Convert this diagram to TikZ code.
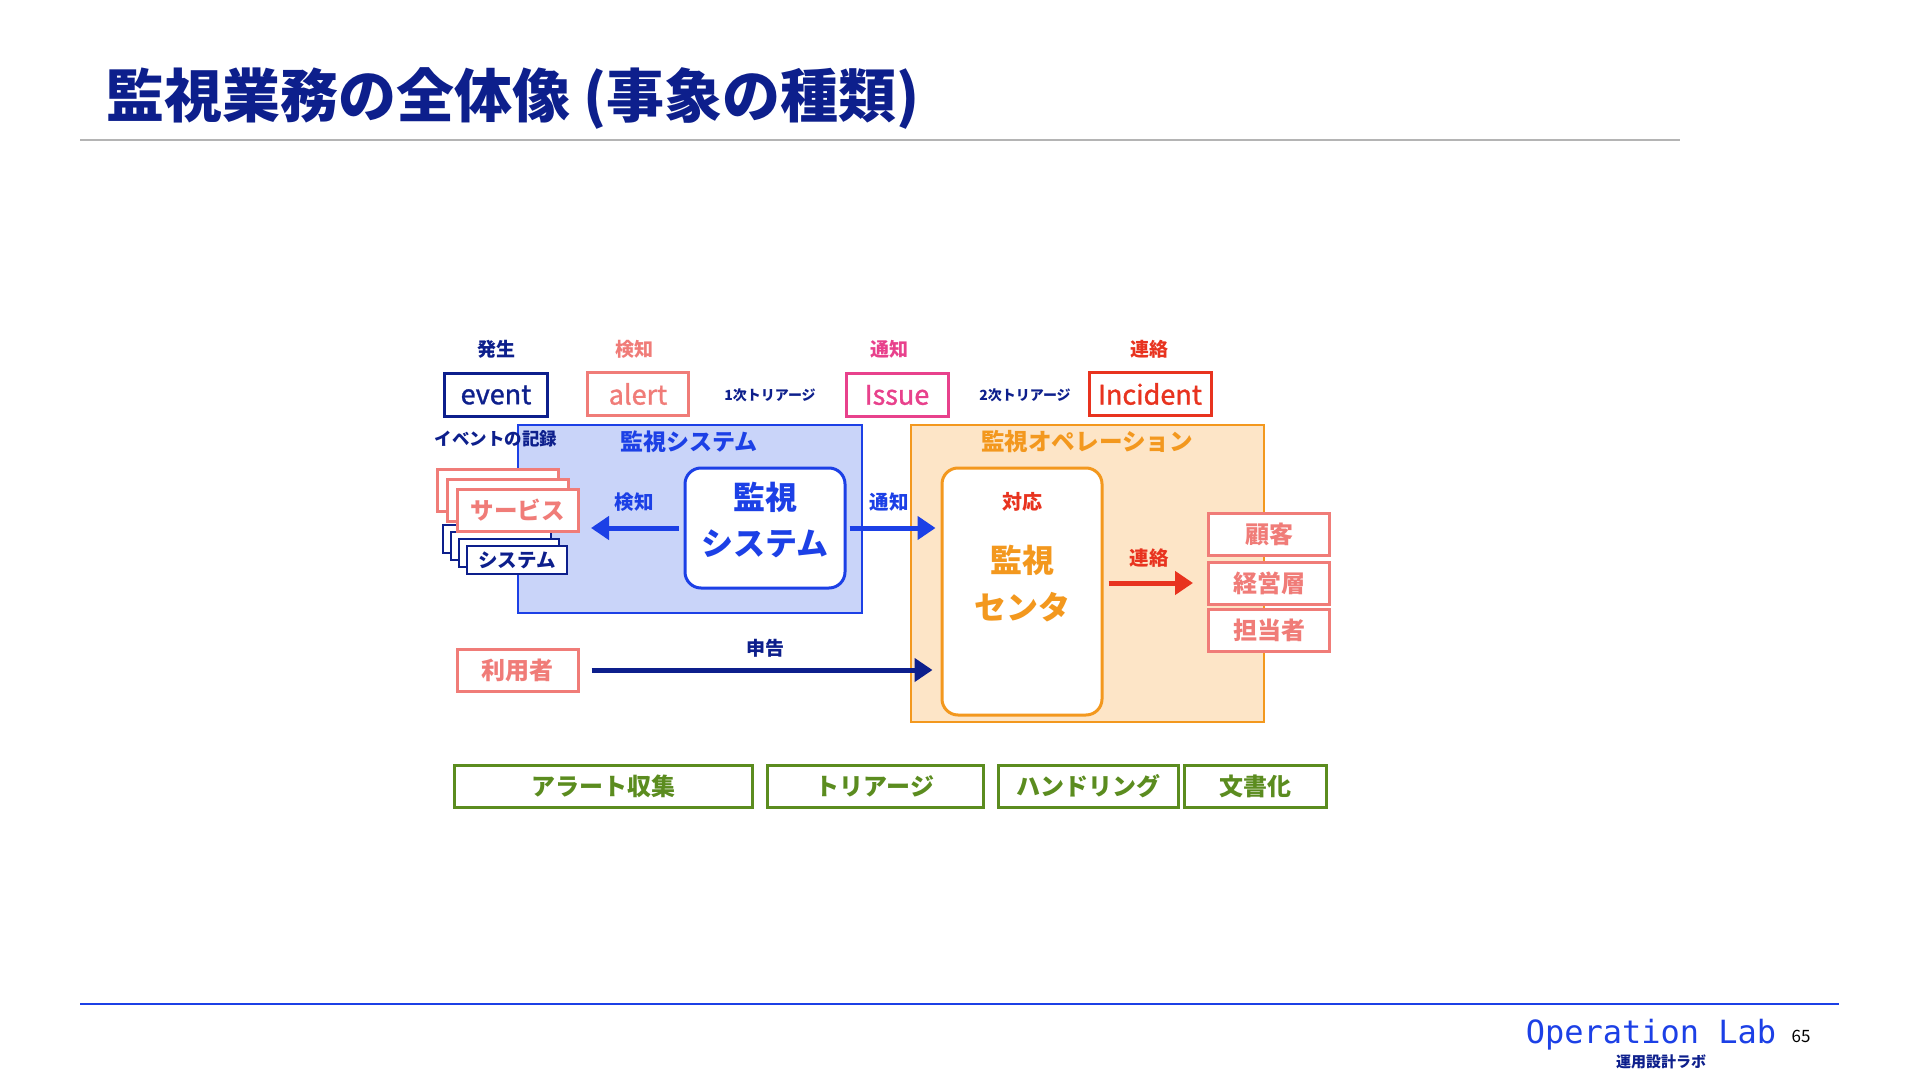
\documentclass[tikz,border=0pt]{standalone}
\usepackage{fontspec}
\setmainfont{Noto Sans CJK JP}
\newfontfamily\tagfont{Noto Sans CJK JP}[FakeBold=1.2]
\newfontfamily\labfont{DejaVu Sans Mono}
\usetikzlibrary{arrows.meta}

\definecolor{navy}{HTML}{0D1F8C}
\definecolor{salmon}{HTML}{F07C78}
\definecolor{issuepink}{HTML}{E8418C}
\definecolor{alarmred}{HTML}{E8331F}
\definecolor{monblue}{HTML}{1C40E6}
\definecolor{monfill}{HTML}{C9D4F9}
\definecolor{opsorange}{HTML}{F3981E}
\definecolor{opsfill}{HTML}{FDE5C7}
\definecolor{stepgreen}{HTML}{5B8C1F}
\definecolor{rulegray}{HTML}{B4B4B4}

\newcommand\fsz[1]{\fontsize{#1}{#1}\selectfont}

\tikzset{
  lbl/.style={inner sep=0, font=\bfseries\fsz{9.5}},
  tag/.style={draw, line width=1.5pt, fill=white, inner sep=0, minimum height=21.5pt, font=\tagfont\fsz{13.5}},
  card/.style={draw=salmon, line width=1.5pt, fill=white, inner sep=0, minimum width=60.5pt, minimum height=21pt, text=salmon, font=\bfseries\fsz{12}},
  host/.style={draw=navy, line width=1pt, fill=white, inner sep=0, minimum width=50pt, minimum height=14pt, text=navy, font=\bfseries\fsz{9.75}},
  region/.style={line width=0.75pt, inner sep=0},
  core/.style={line width=1.5pt, fill=white, rounded corners=8pt, inner sep=0, minimum width=80pt},
  stepbox/.style={draw=stepgreen, line width=1.5pt, inner sep=0, minimum height=21pt, text=stepgreen, font=\bfseries\fsz{12}},
  flow/.style={line width=2.5pt, -{Triangle[length=9pt,width=11.5pt]}}
}

\begin{document}
\begin{tikzpicture}[x=0.5pt,y=-0.5pt]
\useasboundingbox (0,0) rectangle (1920,1080);

% title
\node[anchor=west, inner sep=0, text=navy, font=\bfseries\fsz{29}] (title) at (106,99) {監視業務の全体像 (事象の種類)};
\draw[rulegray, line width=1pt] (80,140) -- (1680,140);

% kinds of events
\node[tag, draw=navy, text=navy, minimum width=51.5pt] (evt) at (496,395) {event};
\node[tag, draw=salmon, text=salmon, minimum width=50.5pt] (alrt) at (638,394) {alert};
\node[tag, draw=issuepink, text=issuepink, minimum width=51pt] (iss) at (897,395) {Issue};
\node[tag, draw=alarmred, text=alarmred, minimum width=61pt] (inc) at (1150,394) {Incident};
\node[lbl, text=navy] (occur) at (496,349) {発生};
\node[lbl, text=salmon] (detect) at (634,349) {検知};
\node[lbl, text=issuepink] (notify) at (889,349) {通知};
\node[lbl, text=alarmred] (contact) at (1149,349) {連絡};
\node[lbl, text=navy, font=\bfseries\fsz{7}] (tri1) at (770,395) {1次トリアージ};
\node[lbl, text=navy, font=\bfseries\fsz{7}] (tri2) at (1025,395) {2次トリアージ};

% regions
\node[region, draw=monblue, fill=monfill, minimum width=172pt, minimum height=94pt] (monsys) at (690,519) {};
\node[region, draw=opsorange, fill=opsfill, minimum width=176.5pt, minimum height=148.5pt] (ops) at (1087.5,573.5) {};
\node[lbl, text=monblue, font=\bfseries\fsz{11.5}] (monsyslbl) at (689,442) {監視システム};
\node[lbl, text=opsorange, font=\bfseries\fsz{11.8}] (opslbl) at (1087,442) {監視オペレーション};
\node[lbl, text=navy, font=\bfseries\fsz{8.75}] (evlog) at (496,439) {イベントの記録};

% monitored hosts
\node[host] (sys1) at (493,539) {};
\node[host] (sys2) at (501,546) {};
\node[host] (sys3) at (509,553) {};
\node[host] (sys4) at (517,560) {システム};
\node[card] (svc1) at (497.5,490.5) {};
\node[card] (svc2) at (507.5,500.5) {};
\node[card, font=\bfseries\fsz{11.75}] (svc3) at (517.5,510.5) {サービス};

% monitoring system
\node[core, draw=monblue, minimum height=60pt] (mon) at (765,528) {};
\node[lbl, text=monblue, align=center, font=\bfseries\fontsize{16}{23}\selectfont] (montxt) at (765,520) {監視\\システム};
\coordinate (detL) at (591,528);
\draw[flow, monblue, shorten <=2.5pt] (mon.west) -- (detL);
\node[lbl, text=monblue, font=\bfseries\fsz{9.75}] (detmid) at (634,502) {検知};

% monitoring center
\node[core, draw=opsorange, minimum height=123.5pt] (ctr) at (1022,591.5) {};
\node[lbl, text=alarmred, font=\bfseries\fsz{10}] (resp) at (1022,502) {対応};
\node[lbl, text=opsorange, align=center, font=\bfseries\fontsize{16}{23.5}\selectfont] (ctrtxt) at (1022,584) {監視\\センタ};
\draw[flow, monblue, shorten <=1.5pt, shorten >=2.5pt] (mon.east) -- (mon.east -| ctr.west);
\node[lbl, text=monblue, font=\bfseries\fsz{9.75}] (notmid) at (889,502) {通知};

% parties to contact
\node[card] (cust) at (1269,534.5) {顧客};
\node[card] (mgmt) at (1269,583) {経営層};
\node[card] (staff) at (1269,630.5) {担当者};
\draw[flow, alarmred, shorten <=2.5pt, shorten >=7pt] (ctr.east |- mgmt) -- (mgmt.west);
\node[lbl, text=alarmred, font=\bfseries\fsz{9.75}] (conmid) at (1149,558) {連絡};

% user report
\node[card] (user) at (517.5,670) {利用者};
\draw[flow, navy, shorten <=6pt, shorten >=4pt] (user.east) -- (user -| ctr.west);
\node[lbl, text=navy] (report) at (765,648) {申告};

% phases
\node[stepbox, minimum width=149pt] (collect) at (603,786) {アラート収集};
\node[stepbox, minimum width=108pt] (triage) at (875,786) {トリアージ};
\node[stepbox, minimum width=90pt] (handle) at (1088,786) {ハンドリング};
\node[stepbox, minimum width=71pt] (docs) at (1255,786) {文書化};

% footer
\draw[monblue, line width=1pt] (80,1004) -- (1839,1004);
\node[inner sep=0, text=monblue, font=\labfont\fsz{16}] (lab) at (1651,1035) {Operation Lab};
\node[inner sep=0, font=\fsz{8.5}] (page) at (1801,1036) {65};
\node[lbl, text=navy, font=\bfseries\fsz{7.5}] (labjp) at (1661,1062) {運用設計ラボ};
\end{tikzpicture}
\end{document}
